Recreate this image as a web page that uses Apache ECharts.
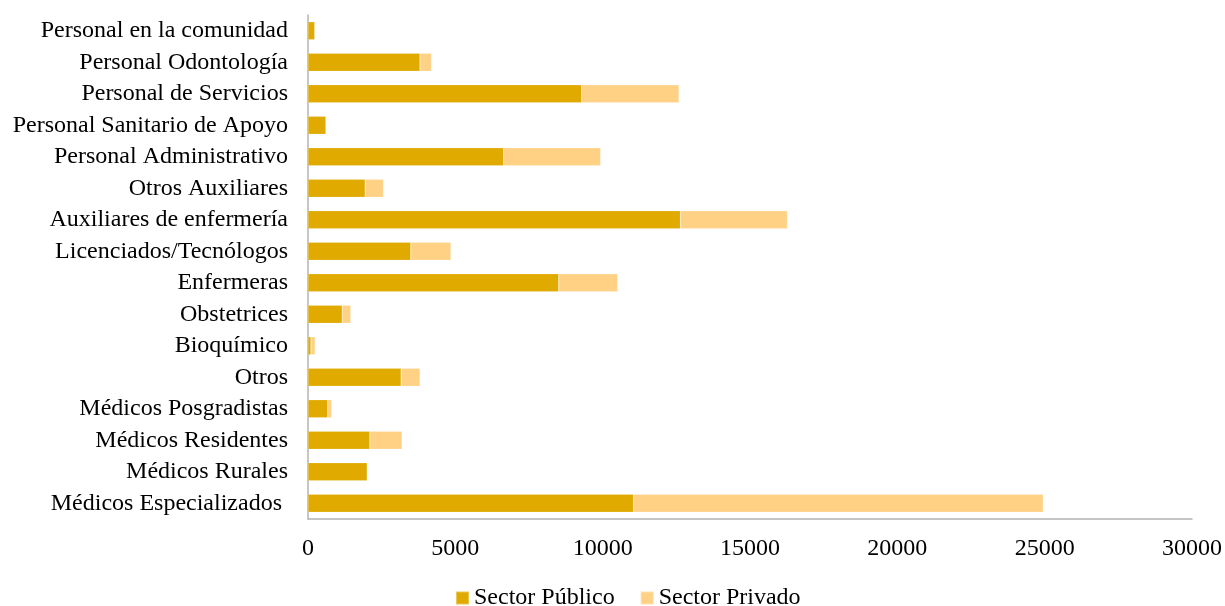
<!DOCTYPE html>
<html>
<head>
<meta charset="utf-8">
<script src="https://cdn.jsdelivr.net/npm/echarts@6/dist/echarts.min.js"></script>
<style>html,body{margin:0;padding:0;background:#fff}#c{width:1225px;height:606px}</style>
</head>
<body>
<div id="c"></div>
<script>
const categories = [
  "Médicos Especializados ",
  "Médicos Rurales",
  "Médicos Residentes",
  "Médicos Posgradistas",
  "Otros",
  "Bioquímico",
  "Obstetrices",
  "Enfermeras",
  "Licenciados/Tecnólogos",
  "Auxiliares de enfermería",
  "Otros Auxiliares",
  "Personal Administrativo",
  "Personal Sanitario de Apoyo",
  "Personal de Servicios",
  "Personal Odontología",
  "Personal en la comunidad"
];
const sectorPublico = [11050, 2010, 2100, 670, 3160, 100, 1160, 8510, 3490, 12640, 1940, 6640, 610, 9290, 3800, 230];
const sectorPrivado = [13900, 0, 1090, 130, 640, 140, 290, 2000, 1360, 3630, 620, 3290, 0, 3300, 390, 0];
const xTicks = [0, 5000, 10000, 15000, 20000, 25000, 30000];

const font = "'Liberation Serif', 'Times New Roman', serif";
const chart = echarts.init(document.getElementById('c'), null, {renderer: 'canvas'});
chart.setOption({
  animation: false,
  backgroundColor: '#ffffff',
  textStyle: {fontFamily: font},
  grid: {left: 308, right: 32, top: 15, bottom: 87, containLabel: false},
  legend: {
    top: 586,
    left: 455,
    padding: 0,
    itemWidth: 13, itemHeight: 13, itemGap: 25,
    icon: 'rect',
    textStyle: {fontFamily: font, fontSize: 24, color: '#000'},
    data: ['Sector Público', 'Sector Privado']
  },
  xAxis: {
    type: 'value',
    min: xTicks[0], max: xTicks[xTicks.length - 1], interval: 5000,
    axisLine: {show: true, lineStyle: {color: '#b3b3b3', width: 1.5}},
    axisTick: {show: false},
    splitLine: {show: false},
    axisLabel: {fontFamily: font, fontSize: 24, color: '#000', margin: 18, formatter: v => String(v)}
  },
  yAxis: {
    type: 'category',
    data: categories,
    axisLine: {show: true, lineStyle: {color: '#b3b3b3', width: 1.5}},
    axisTick: {show: false},
    axisLabel: {fontFamily: font, fontSize: 24, color: '#000', margin: 20}
  },
  series: [
    {name: 'Sector Público', type: 'bar', stack: 't', data: sectorPublico, barWidth: 18,
     itemStyle: {color: '#e0aa00', borderColor: 'rgba(255,255,255,0.35)', borderWidth: 0.5}},
    {name: 'Sector Privado', type: 'bar', stack: 't', data: sectorPrivado, barWidth: 18,
     itemStyle: {color: '#ffd185', borderColor: 'rgba(255,255,255,0.35)', borderWidth: 0.5}}
  ]
});
</script>
</body>
</html>
